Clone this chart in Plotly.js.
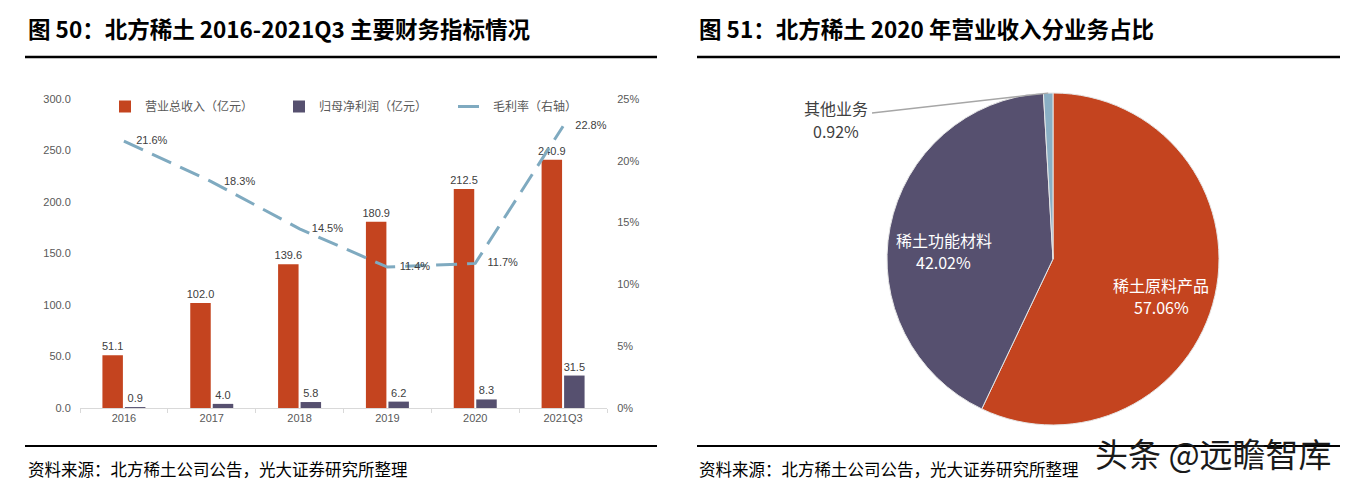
<!DOCTYPE html>
<html>
<head>
<meta charset="utf-8">
<script src="https://cdn.plot.ly/plotly-3.0.1.min.js"></script>
<style>
  html, body { margin: 0; padding: 0; background: #ffffff; }
  #chart { width: 1350px; height: 486px; }
</style>
</head>
<body>
<div id="chart"></div>
<script>
// ---------- data ----------
const categories = ['2016', '2017', '2018', '2019', '2020', '2021Q3'];
const revenue = [51.1, 102.0, 139.6, 180.9, 212.5, 240.9];       // 营业总收入（亿元）
const netProfit = [0.9, 4.0, 5.8, 6.2, 8.3, 31.5];                // 归母净利润（亿元）
const grossMargin = [0.216, 0.183, 0.145, 0.114, 0.117, 0.228];   // 毛利率（右轴）
const seriesNames = ['营业总收入（亿元）', '归母净利润（亿元）', '毛利率（右轴）'];

const pieLabels = ['稀土原料产品', '稀土功能材料', '其他业务'];
const pieValues = [57.06, 42.02, 0.92];

const leftTitle = '图 50：北方稀土 2016-2021Q3 主要财务指标情况';
const rightTitle = '图 51：北方稀土 2020 年营业收入分业务占比';
const sourceText = '资料来源：北方稀土公司公告，光大证券研究所整理';
const watermark = '头条 @远瞻智库';

// ---------- helpers ----------
const W = 1350, H = 486;
const px = v => v / W;
const py = v => (H - v) / H;

const RED = '#c4441f', PURPLE = '#56506f', BLUE = '#7faac0', PIEBLUE = '#8aafc4';
const FONT = 'Liberation Sans, Arial, Noto Sans CJK SC, sans-serif';
const CJK = 'Noto Sans CJK SC, sans-serif';

// pie geometry (pixels)
const pieCx = 1053, pieCy = 259, pieR = 166;

const traces = [
  {
    type: 'bar', name: seriesNames[0], x: categories, y: revenue,
    marker: { color: RED },
    text: revenue.map(v => v.toFixed(1)), textposition: 'outside', constraintext: 'none',
    textfont: { size: 11, color: '#404040', family: FONT },
    cliponaxis: false, xaxis: 'x', yaxis: 'y', hoverinfo: 'x+y'
  },
  {
    type: 'bar', name: seriesNames[1], x: categories, y: netProfit,
    marker: { color: PURPLE },
    text: netProfit.map(v => v.toFixed(1)), textposition: 'outside', constraintext: 'none',
    textfont: { size: 11, color: '#404040', family: FONT },
    cliponaxis: false, xaxis: 'x', yaxis: 'y', hoverinfo: 'x+y'
  },
  {
    type: 'scatter', name: seriesNames[2], x: categories, y: grossMargin,
    mode: 'lines+markers+text',
    line: { color: BLUE, width: 3, dash: '21px,10px' },
    marker: { size: 18, color: 'rgba(0,0,0,0)' },
    text: grossMargin.map(v => (v * 100).toFixed(1) + '%'),
    textposition: 'middle right',
    textfont: { size: 11, color: '#404040', family: FONT },
    cliponaxis: false, xaxis: 'x', yaxis: 'y2'
  },
  {
    type: 'pie', labels: pieLabels, values: pieValues, sort: false,
    direction: 'clockwise', rotation: 0,
    marker: { colors: [RED, PURPLE, PIEBLUE], line: { color: '#e6e6e6', width: 1 } },
    textinfo: 'none', textposition: 'none',
    showlegend: false,
    domain: { x: [px(pieCx - pieR), px(pieCx + pieR)], y: [py(pieCy + pieR), py(pieCy - pieR)] }
  }
];

// slice geometry derived from the values (clockwise from 12 o'clock)
const total = pieValues.reduce((a, b) => a + b, 0);
const midAngles = [];
let cum = 0;
pieValues.forEach(v => { midAngles.push(2 * Math.PI * (cum + v / 2) / total); cum += v; });
const at = (a, rf) => [pieCx + rf * pieR * Math.sin(a), pieCy - rf * pieR * Math.cos(a)];
const endPt = at(midAngles[2], 1.0);

const textAnn = (x, y, text, size, color, anchor) => ({
  xref: 'paper', yref: 'paper', x: px(x), y: py(y), xanchor: anchor || 'center', yanchor: 'middle',
  showarrow: false, text: text, font: { family: CJK, size: size, color: color }
});

const pieAnn = [];
[0, 1].forEach(i => {
  const p = at(midAngles[i], 0.67);
  pieAnn.push(textAnn(p[0], p[1] + 2, pieLabels[i], 16, '#ffffff'));
  pieAnn.push(textAnn(p[0], p[1] + 24, pieValues[i].toFixed(2) + '%', 16, '#ffffff'));
});

const layout = {
  width: W, height: H,
  margin: { l: 0, r: 0, t: 0, b: 0 },
  paper_bgcolor: '#ffffff', plot_bgcolor: 'rgba(0,0,0,0)',
  font: { family: FONT, size: 11, color: '#595959' },
  barmode: 'group', bargap: 0.4875, bargroupgap: 0.09,
  showlegend: true,
  legend: {
    orientation: 'h', x: px(105), xanchor: 'left', y: py(92), yanchor: 'top',
    entrywidth: 129, entrywidthmode: 'pixels',
    font: { size: 12, color: '#595959', family: CJK },
    bgcolor: 'rgba(0,0,0,0)', traceorder: 'normal'
  },
  xaxis: {
    domain: [px(80), px(607)], type: 'category', anchor: 'y',
    showline: true, linecolor: '#d9d9d9', linewidth: 1,
    ticks: 'outside', tickson: 'boundaries', ticklen: 4, tickcolor: '#d9d9d9',
    tickfont: { size: 11, color: '#595959' }, showgrid: false, zeroline: false,
    fixedrange: true
  },
  yaxis: {
    domain: [py(408), py(99)], range: [0, 300], dtick: 50, tickformat: '.1f',
    showgrid: false, zeroline: false, showline: false,
    ticks: 'outside', ticklen: 6, tickcolor: 'rgba(0,0,0,0)',
    tickfont: { size: 11, color: '#595959' }, fixedrange: true
  },
  yaxis2: {
    overlaying: 'y', side: 'right', anchor: 'x', range: [0, 0.25], dtick: 0.05, tickformat: '.0%',
    showgrid: false, zeroline: false, showline: false,
    ticks: 'outside', ticklen: 7, tickcolor: 'rgba(0,0,0,0)',
    tickfont: { size: 11, color: '#595959' }, fixedrange: true
  },
  shapes: [
    { type: 'line', xref: 'paper', yref: 'paper', x0: px(25), x1: px(657), y0: py(57), y1: py(57), line: { color: '#000000', width: 2.5 } },
    { type: 'line', xref: 'paper', yref: 'paper', x0: px(697), x1: px(1340), y0: py(57), y1: py(57), line: { color: '#000000', width: 2.5 } },
    { type: 'line', xref: 'paper', yref: 'paper', x0: px(25), x1: px(657), y0: py(446), y1: py(446), line: { color: '#000000', width: 2 } },
    { type: 'line', xref: 'paper', yref: 'paper', x0: px(697), x1: px(1340), y0: py(446), y1: py(446), line: { color: '#000000', width: 2 } },
    { type: 'line', xref: 'paper', yref: 'paper', x0: px(872), y0: py(113), x1: px(endPt[0]), y1: py(endPt[1]), line: { color: '#a6a6a6', width: 1.3 } }
  ],
  annotations: [
    textAnn(26, 28, '<b>' + leftTitle + '</b>', 22.5, '#000000', 'left'),
    textAnn(697, 28, '<b>' + rightTitle + '</b>', 22.5, '#000000', 'left'),
    textAnn(26, 469, sourceText, 16.5, '#000000', 'left'),
    textAnn(697, 469, sourceText, 16.5, '#000000', 'left'),
    textAnn(836, 108, pieLabels[2], 16, '#404040'),
    textAnn(836, 131, pieValues[2].toFixed(2) + '%', 16, '#404040'),
    ...pieAnn,
    textAnn(1213, 453, watermark, 33, '#1a1a1a')
  ]
};

Plotly.newPlot('chart', traces, layout, { staticPlot: true, displayModeBar: false });
</script>
</body>
</html>
